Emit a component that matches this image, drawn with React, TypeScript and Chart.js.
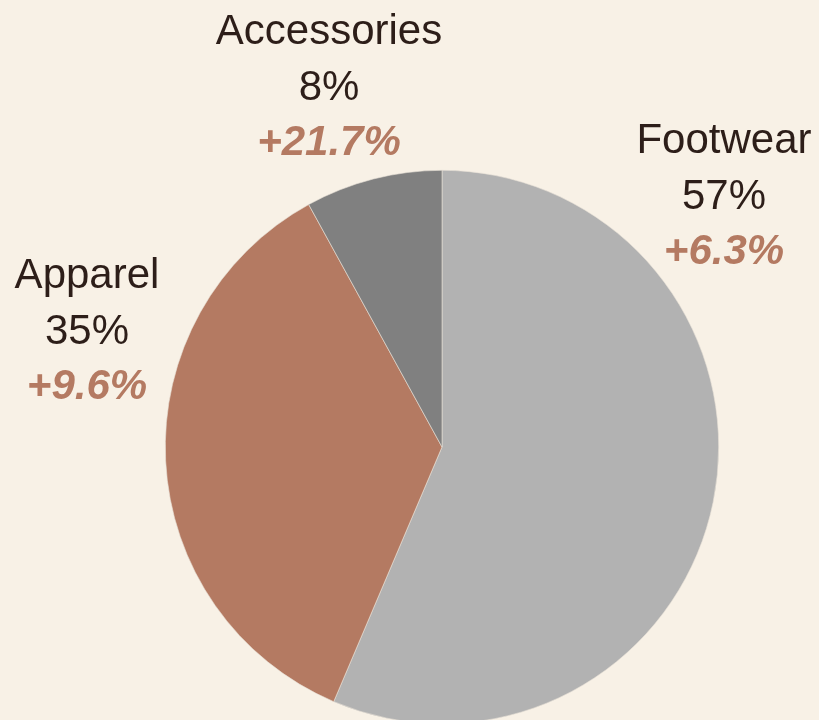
import React, { useEffect, useRef } from "react";
import { Chart, registerables } from "chart.js";

Chart.register(...registerables);

const categories = ["Footwear", "Apparel", "Accessories"];
const shares = [56.4, 35.6, 8.0];
const shareLabels = ["57%", "35%", "8%"];
const growthLabels = ["+6.3%", "+9.6%", "+21.7%"];
const sliceColors = ["#b2b2b2", "#b47a62", "#808080"];

const BG = "#f8f1e6";
const TEXT = "#2d1e19";
const ACCENT = "#b47a62";

// label block anchors: center x, first baseline y (layout only)
const labelAnchors = [
  { x: 724, y: 153 },
  { x: 87, y: 288 },
  { x: 329, y: 44 },
];

const labelPlugin = {
  id: "pieLabels",
  afterDraw(chart: any) {
    const ctx = chart.ctx;
    ctx.save();
    ctx.textAlign = "center";
    ctx.textBaseline = "alphabetic";
    const lh = 55.5;
    categories.forEach((c, i) => {
      const a = labelAnchors[i];
      ctx.fillStyle = TEXT;
      ctx.font = "42px 'Liberation Sans', Arial, sans-serif";
      ctx.fillText(c, a.x, a.y);
      ctx.fillText(shareLabels[i], a.x, a.y + lh);
      ctx.fillStyle = ACCENT;
      ctx.font = "italic bold 42px 'Liberation Sans', Arial, sans-serif";
      ctx.fillText(growthLabels[i], a.x, a.y + lh * 2);
    });
    ctx.restore();
  },
};

export default function App() {
  const ref = useRef<HTMLCanvasElement | null>(null);
  useEffect(() => {
    document.documentElement.style.overflow = "hidden";
    document.body.style.margin = "0";
    document.body.style.overflow = "hidden";
    document.body.style.background = BG;
    const chart = new Chart(ref.current as HTMLCanvasElement, {
      type: "pie",
      data: {
        labels: categories,
        datasets: [
          {
            data: shares,
            backgroundColor: sliceColors,
            borderColor: "#e8e0d6",
            borderWidth: 0.6,
          },
        ],
      },
      options: {
        animation: false,
        responsive: false,
        maintainAspectRatio: false,
        layout: { padding: { left: 165, right: 100, top: 170, bottom: 36 } },
        plugins: {
          legend: { display: false },
          tooltip: { enabled: false },
        },
      },
      plugins: [labelPlugin],
    });
    return () => chart.destroy();
  }, []);
  return (
    <div style={{ width: 819, height: 720, overflow: "hidden", background: BG }}>
      <canvas ref={ref} width={819} height={760} style={{ display: "block" }} />
    </div>
  );
}
